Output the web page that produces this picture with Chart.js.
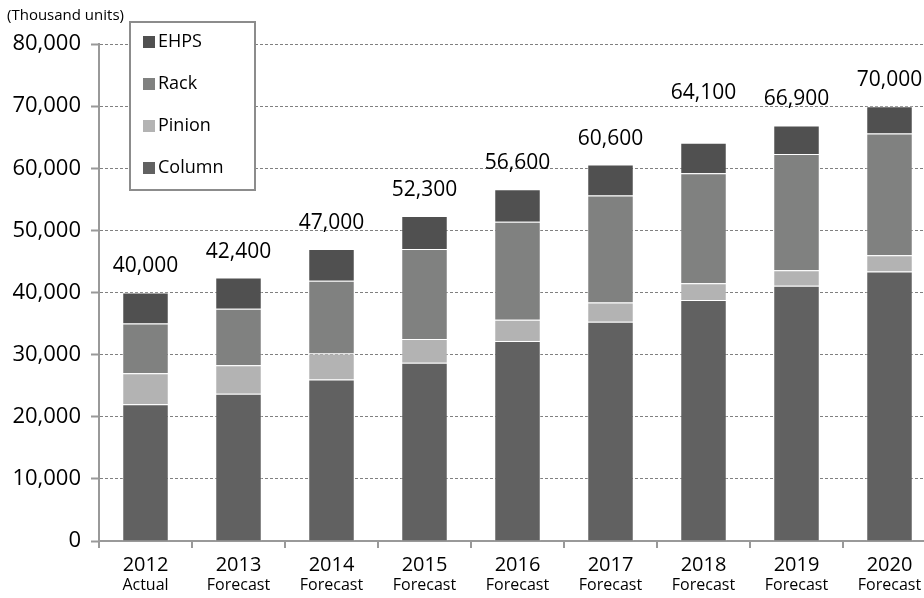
<!DOCTYPE html>
<html>
<head>
    <meta charset="utf-8" />
    <script src="https://cdn.jsdelivr.net/npm/chart.js"></script>
    <style>
        html, body { margin: 0; padding: 0; overflow: hidden; background: #fff; }
        #chart { position: absolute; left: 0; top: 0; }
    </style>
</head>
<body>
    <canvas id="chart" width="936" height="598"></canvas>

    <script>
        // data (thousand units)
        const years = ['2012', '2013', '2014', '2015', '2016', '2017', '2018', '2019', '2020'];
        const stages = ['Actual', 'Forecast', 'Forecast', 'Forecast', 'Forecast', 'Forecast', 'Forecast', 'Forecast', 'Forecast'];
        const column = [22000, 23700, 26000, 28700, 32200, 35300, 38800, 41100, 43400];
        const pinion = [5000, 4600, 4200, 3800, 3400, 3100, 2700, 2500, 2600];
        const rack = [8000, 9100, 11700, 14500, 15800, 17200, 17700, 18700, 19600];
        const ehps = [5000, 5000, 5100, 5300, 5200, 5000, 4900, 4600, 4400];
        const totals = [40000, 42400, 47000, 52300, 56600, 60600, 64100, 66900, 70000];
        const yTicks = [0, 10000, 20000, 30000, 40000, 50000, 60000, 70000, 80000];

        const FONT = '"Open Sans", sans-serif';
        const fmt = v => v.toLocaleString('en-US');

        // totals above each stack
        const totalLabels = {
            id: 'totalLabels',
            afterDatasetsDraw(chart, args, opts) {
                const ctx = chart.ctx;
                const meta = chart.getDatasetMeta(chart.data.datasets.length - 1);
                ctx.save();
                ctx.font = '21px ' + FONT;
                ctx.fillStyle = '#000';
                ctx.textAlign = 'center';
                ctx.textBaseline = 'middle';
                meta.data.forEach((bar, i) => {
                    const lift = opts.lift[i] !== undefined ? opts.lift[i] : opts.defaultLift;
                    ctx.fillText(fmt(totals[i]), bar.x, bar.y - lift);
                });
                ctx.restore();
            }
        };

        // boxed legend + unit caption
        const boxLegend = {
            id: 'boxLegend',
            afterDraw(chart, args, opts) {
                const ctx = chart.ctx;
                ctx.save();
                ctx.fillStyle = '#fff';
                ctx.fillRect(opts.x, opts.y, opts.w, opts.h);
                ctx.strokeStyle = '#8c8c8c';
                ctx.lineWidth = 2;
                ctx.strokeRect(opts.x, opts.y, opts.w, opts.h);
                const sets = chart.data.datasets.slice().reverse();
                ctx.font = '18px ' + FONT;
                ctx.textBaseline = 'middle';
                ctx.textAlign = 'left';
                sets.forEach((ds, i) => {
                    const cy = opts.y + opts.first + i * opts.step;
                    ctx.fillStyle = ds.backgroundColor;
                    ctx.fillRect(opts.x + 13, cy - 6, 12, 12);
                    ctx.fillStyle = '#000';
                    ctx.fillText(ds.label, opts.x + 28, cy);
                });
                ctx.font = '15px ' + FONT;
                ctx.fillText('(Thousand units)', 7, 16);
                ctx.restore();
            }
        };

        new Chart(document.getElementById('chart'), {
            type: 'bar',
            data: {
                labels: years,
                datasets: [
                    { label: 'Column', data: column, backgroundColor: '#616161' },
                    { label: 'Pinion', data: pinion, backgroundColor: '#b3b3b3' },
                    { label: 'Rack', data: rack, backgroundColor: '#808180' },
                    { label: 'EHPS', data: ehps, backgroundColor: '#505050' }
                ].map(ds => Object.assign(ds, {
                    borderColor: 'rgba(255,255,255,0.45)',
                    borderWidth: 1,
                    categoryPercentage: 0.5,
                    barPercentage: 1.0
                }))
            },
            options: {
                responsive: false,
                animation: false,
                layout: { padding: { top: 44, left: 0, right: 0, bottom: 0 } },
                plugins: {
                    legend: { display: false },
                    tooltip: { enabled: false },
                    totalLabels: { defaultLift: 26, lift: { 6: 50 } },
                    boxLegend: { x: 130, y: 22, w: 125, h: 168, first: 20, step: 42 }
                },
                scales: {
                    x: {
                        stacked: true,
                        offset: true,
                        grid: { offset: true, drawOnChartArea: false, color: '#999', lineWidth: 2, tickLength: 7 },
                        border: { color: '#999', width: 2 },
                        ticks: { color: '#000', font: { family: FONT, size: 20, lineHeight: 1.2 }, padding: 5, maxRotation: 0, autoSkip: false },
                        afterFit: s => { s.height = 35; }
                    },
                    x2: {
                        type: 'category',
                        labels: stages,
                        position: 'bottom',
                        offset: true,
                        grid: { display: false, drawTicks: false },
                        border: { display: false },
                        ticks: { color: '#000', font: { family: FONT, size: 16, lineHeight: 1.2 }, padding: 0, maxRotation: 0, autoSkip: false },
                        afterFit: s => { s.height = 22; }
                    },
                    y: {
                        stacked: true,
                        min: 0,
                        max: 80000,
                        afterBuildTicks: s => { s.ticks = yTicks.map(v => ({ value: v })); },
                        grid: { color: '#808080', lineWidth: 1, tickLength: 8, tickColor: '#999', tickWidth: 2, tickBorderDash: [] },
                        border: { color: '#999', width: 2, dash: [3, 2] },
                        ticks: { color: '#000', font: { family: FONT, size: 22 }, padding: 10, callback: v => fmt(v) },
                        afterFit: s => { s.width = 99; }
                    }
                }
            },
            plugins: [totalLabels, boxLegend]
        });
    </script>
</body>
</html>
